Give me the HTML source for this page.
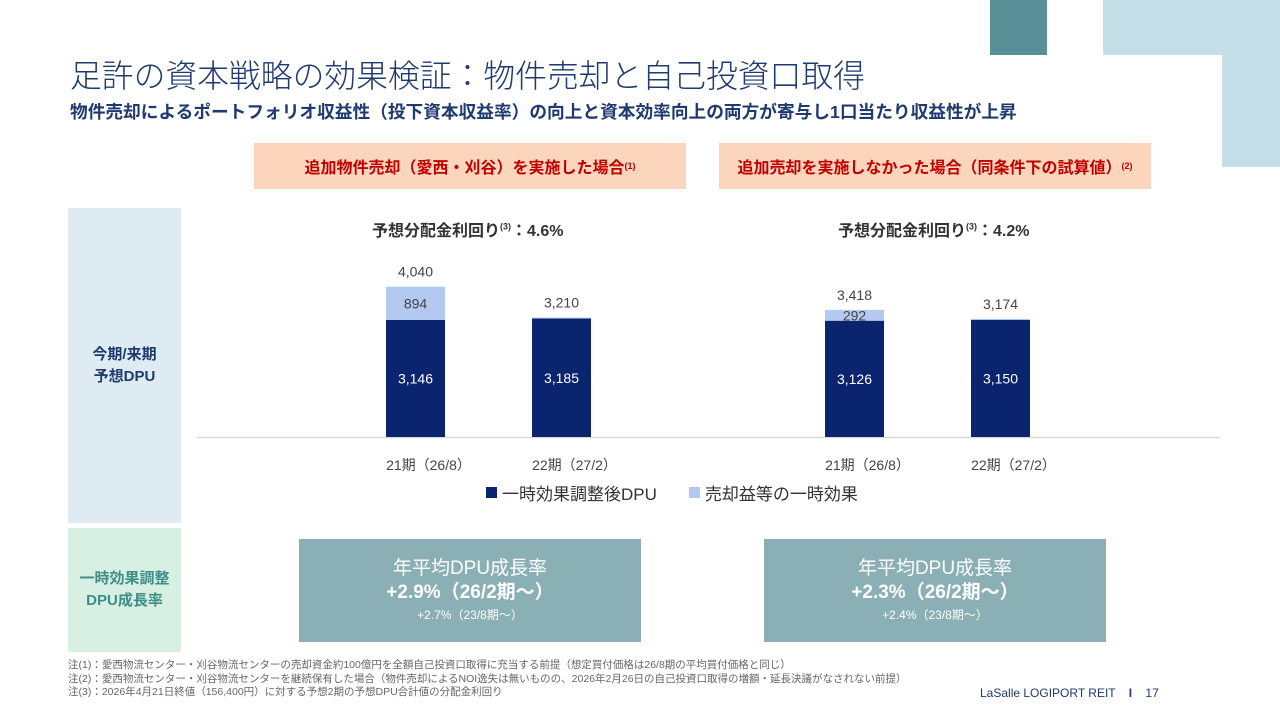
<!DOCTYPE html>
<html><head><meta charset="utf-8">
<style>
body{margin:0;width:1280px;height:720px;background:#fff;position:relative;overflow:hidden;font-family:"Liberation Sans","Noto Sans CJK JP",sans-serif;}
.a{position:absolute;}
.c{display:flex;align-items:center;justify-content:center;text-align:center;}
</style></head><body>
<div class="a" style="left:990px;top:0;width:57px;height:55px;background:#5a8f98"></div>
<div class="a" style="left:1103px;top:0;width:177px;height:55px;background:#c5dfe8"></div>
<div class="a" style="left:1222px;top:55px;width:58px;height:112px;background:#c5dfe8"></div>

<div class="a" style="left:70px;top:51px;font-size:31.8px;color:#1f3a6e;font-weight:300;white-space:nowrap">足許の資本戦略の効果検証：物件売却と自己投資口取得</div>
<div class="a" style="left:70px;top:98px;font-size:17.7px;color:#1f3a6e;font-weight:bold;white-space:nowrap">物件売却によるポートフォリオ収益性（投下資本収益率）の向上と資本効率向上の両方が寄与し1口当たり収益性が上昇</div>

<div class="a c" style="left:254px;top:143px;width:432px;height:46px;background:#fcd5bd;color:#c00000;font-weight:bold;font-size:16px">追加物件売却（愛西・刈谷）を実施した場合<sup style="font-size:9px">(1)</sup></div>
<div class="a c" style="left:719px;top:143px;width:432px;height:46px;background:#fcd5bd;color:#c00000;font-weight:bold;font-size:16px">追加売却を実施しなかった場合（同条件下の試算値）<sup style="font-size:9px">(2)</sup></div>

<div class="a c" style="left:68px;top:208px;width:113px;height:315px;background:#deebf3;color:#1f3a6e;font-weight:bold;font-size:15px;line-height:22px">今期/来期<br>予想DPU</div>
<div class="a c" style="left:68px;top:528px;width:113px;height:124px;background:#d8efe3;color:#3d8f86;font-weight:bold;font-size:15px;line-height:22px">一時効果調整<br>DPU成長率</div>

<div class="a" style="left:372px;top:217px;font-size:16px;font-weight:bold;color:#333;white-space:nowrap">予想分配金利回り<sup style="font-size:9px">(3)</sup>：4.6%</div>
<div class="a" style="left:838px;top:217px;font-size:16px;font-weight:bold;color:#333;white-space:nowrap">予想分配金利回り<sup style="font-size:9px">(3)</sup>：4.2%</div>

<svg class="a" style="left:0;top:0" width="1280" height="720" id="chart"></svg>

<div class="a" style="left:486px;top:480px;font-size:17px;color:#333;white-space:nowrap;display:flex;align-items:center">
<span style="width:11px;height:11px;background:#0b2470;display:inline-block;margin-right:5px"></span><span>一時効果調整後DPU</span>
<span style="width:11px;height:11px;background:#b4c9f2;display:inline-block;margin:0 5px 0 32px"></span><span>売却益等の一時効果</span></div>

<div class="a c" style="left:299px;top:539px;width:342px;height:103px;background:#8ab0b5;color:#fff;flex-direction:column">
<div style="font-size:19px;line-height:24px">年平均DPU成長率</div><div style="font-size:19px;font-weight:bold;line-height:24px">+2.9%（26/2期～）</div><div style="font-size:12px;line-height:20px">+2.7%（23/8期～）</div></div>
<div class="a c" style="left:764px;top:539px;width:342px;height:103px;background:#8ab0b5;color:#fff;flex-direction:column">
<div style="font-size:19px;line-height:24px">年平均DPU成長率</div><div style="font-size:19px;font-weight:bold;line-height:24px">+2.3%（26/2期～）</div><div style="font-size:12px;line-height:20px">+2.4%（23/8期～）</div></div>

<div class="a" style="left:68px;top:659px;font-size:10.5px;color:#666;line-height:13.5px;white-space:nowrap">
注(1)：愛西物流センター・刈谷物流センターの売却資金約100億円を全額自己投資口取得に充当する前提（想定買付価格は26/8期の平均買付価格と同じ）<br>
注(2)：愛西物流センター・刈谷物流センターを継続保有した場合（物件売却によるNOI逸失は無いものの、2026年2月26日の自己投資口取得の増額・延長決議がなされない前提）<br>
注(3)：2026年4月21日終値（156,400円）に対する予想2期の予想DPU合計値の分配金利回り</div>
<div class="a" style="left:980px;top:686px;font-size:12px;color:#1f3a6e;white-space:nowrap">LaSalle LOGIPORT REIT &nbsp;&nbsp; <b>I</b> &nbsp;&nbsp; 17</div>

<script>
const categories=["21期（26/8）","22期（27/2）","21期（26/8）","22期（27/2）"];
const adjustedDPU=[3146,3185,3126,3150];
const oneTimeEffect=[894,25,292,24];
const totals=["4,040","3,210","3,418","3,174"];
const adjLabels=["3,146","3,185","3,126","3,150"];
const oneLabels=["894","","292",""];
const NS="http://www.w3.org/2000/svg";
const svg=document.getElementById('chart');
const baseY=437, k=0.0372;
const barX=[386,532,825,971], bw=59;
function y(v){return baseY-v*k;}
function mk(t,a){const e=document.createElementNS(NS,t);for(const q in a)e.setAttribute(q,a[q]);svg.appendChild(e);return e;}
const ax=mk('line',{x1:197,x2:1220,y1:baseY+0.5,y2:baseY+0.5,stroke:'#d9d9d9','stroke-width':1.5});


categories.forEach((c,i)=>{
  const x=barX[i];
  const r1=mk('rect',{x:x,y:y(adjustedDPU[i]),width:bw,height:adjustedDPU[i]*k,fill:'#0b2470'});
  
  
  const r2=mk('rect',{x:x,y:y(adjustedDPU[i]+oneTimeEffect[i]),width:bw,height:oneTimeEffect[i]*k,fill:'#b4c9f2'});
  
  
  const cx=x+bw/2;
  const t1=mk('text',{x:cx,y:(y(adjustedDPU[i])+baseY)/2+5,'text-anchor':'middle',fill:'#fff','font-size':14});
  t1.textContent=adjLabels[i];
  
  
  if(oneLabels[i]){const t2=mk('text',{x:cx,y:y(adjustedDPU[i]+oneTimeEffect[i]/2)+5,'text-anchor':'middle',fill:'#444','font-size':14});
  t2.textContent=oneLabels[i];
  
  }
  const t3=mk('text',{x:cx,y:y(adjustedDPU[i]+oneTimeEffect[i])-10,'text-anchor':'middle',fill:'#444','font-size':14});
  t3.textContent=totals[i];
  
  
  const t4=mk('text',{x:cx+13,y:470,'text-anchor':'middle',fill:'#444','font-size':14});
  t4.textContent=c;
  
  
});
</script>
</body></html>
